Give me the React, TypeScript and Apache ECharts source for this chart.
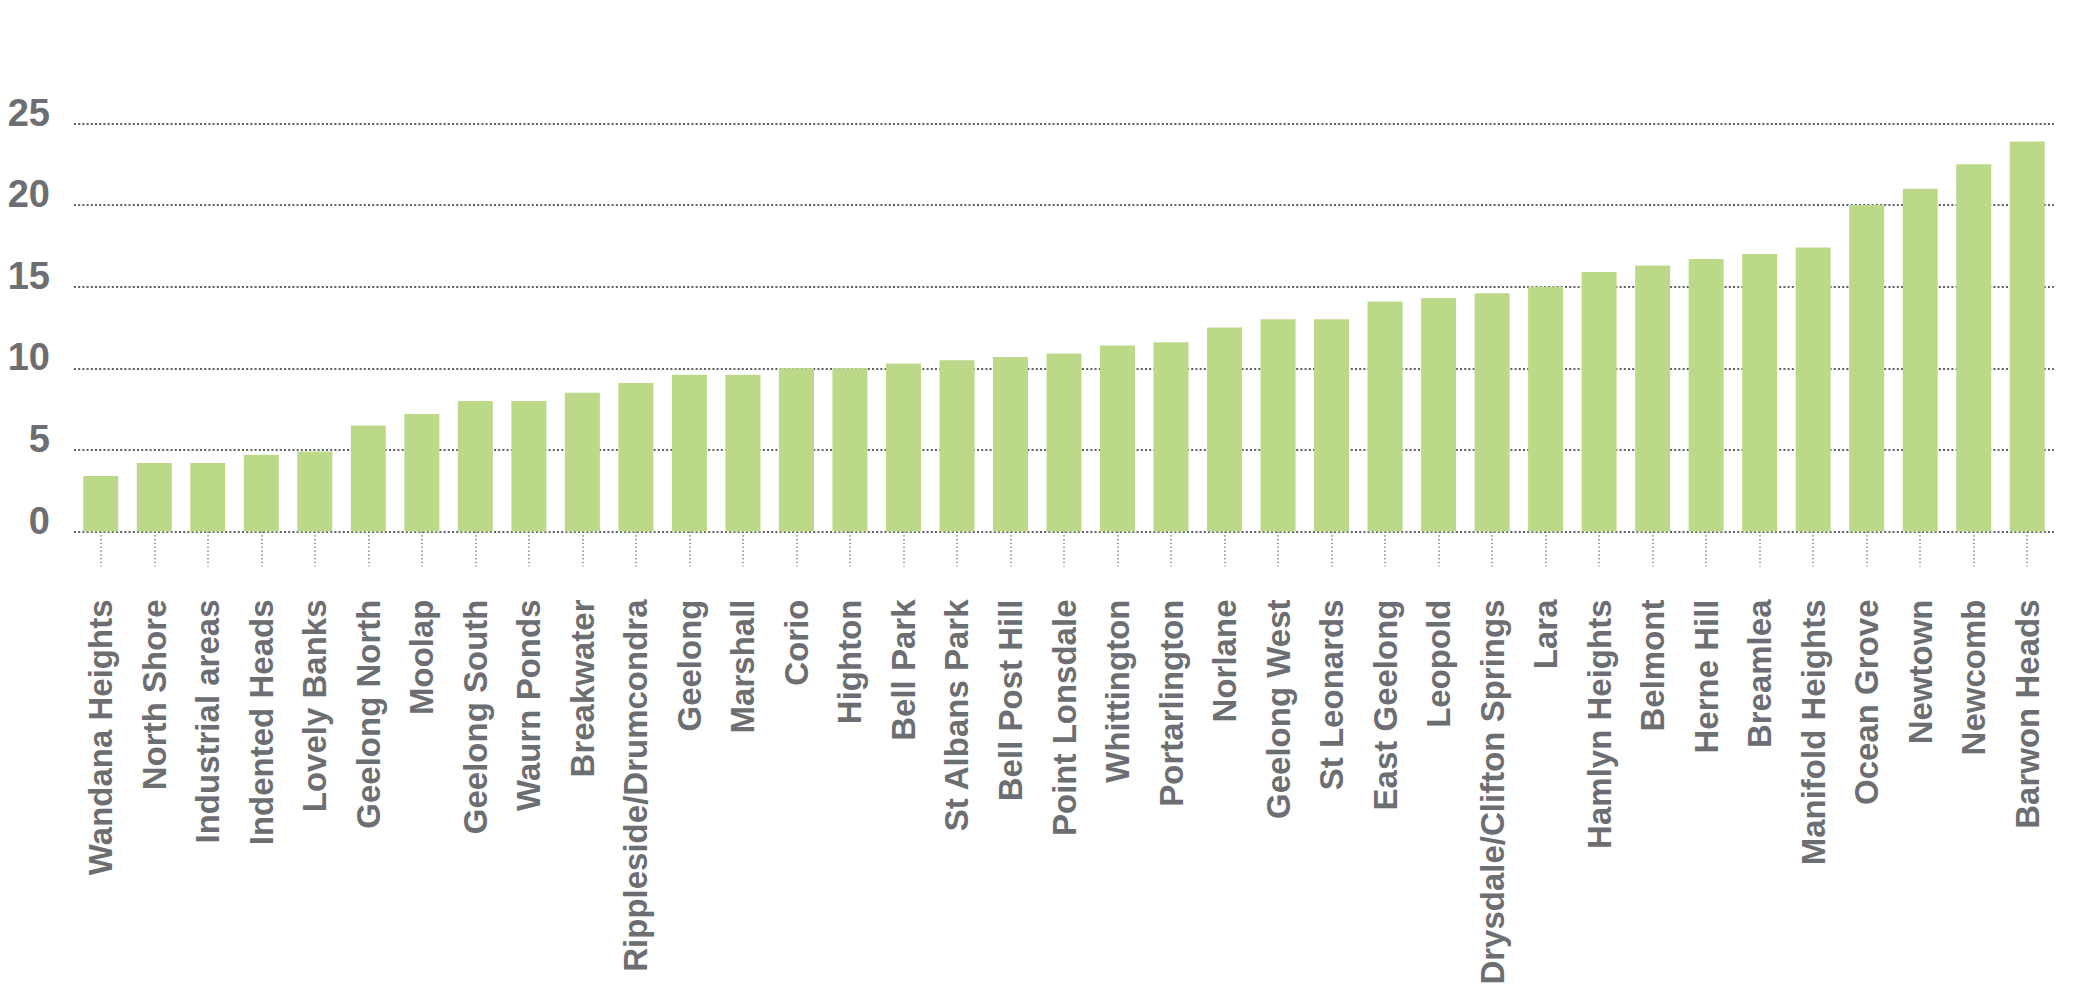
import React, { useEffect, useRef } from "react";
import * as echarts from "echarts";

const categories: string[] = [
  "Wandana Heights", "North Shore", "Industrial areas", "Indented Heads", "Lovely Banks",
  "Geelong North", "Moolap", "Geelong South", "Waurn Ponds", "Breakwater",
  "Rippleside/Drumcondra", "Geelong", "Marshall", "Corio", "Highton",
  "Bell Park", "St Albans Park", "Bell Post Hill", "Point Lonsdale", "Whittington",
  "Portarlington", "Norlane", "Geelong West", "St Leonards", "East Geelong",
  "Leopold", "Drysdale/Clifton Springs", "Lara", "Hamlyn Heights", "Belmont",
  "Herne Hill", "Breamlea", "Manifold Heights", "Ocean Grove", "Newtown",
  "Newcomb", "Barwon Heads",
];

const values: number[] = [
  3.4, 4.2, 4.2, 4.7, 4.9,
  6.5, 7.2, 8.0, 8.0, 8.5,
  9.1, 9.6, 9.6, 10.0, 10.0,
  10.3, 10.5, 10.7, 10.9, 11.4,
  11.6, 12.5, 13.0, 13.0, 14.1,
  14.3, 14.6, 15.0, 15.9, 16.3,
  16.7, 17.0, 17.4, 20.0, 21.0,
  22.5, 23.9,
];

const yMin = 0;
const yMax = 25;
const yStep = 5;

export default function App() {
  const ref = useRef<HTMLDivElement>(null);

  useEffect(() => {
    document.body.style.margin = "0";
    if (!ref.current) return;
    const chart = echarts.init(ref.current, undefined, { renderer: "svg" });
    const grey = "#6d6e71";
    chart.setOption({
      animation: false,
      backgroundColor: "#ffffff",
      grid: {
        left: 74,
        right: 21,
        top: 123.5,
        bottom: 456.5,
        containLabel: false,
        outerBoundsMode: "none",
      },
      xAxis: {
        type: "category",
        data: categories,
        offset: 21,
        axisLine: { show: false },
        axisTick: {
          show: true,
          alignWithLabel: true,
          interval: 0,
          length: 35,
          lineStyle: { color: grey, width: 1.5, type: [1.2, 2.6] },
        },
        axisLabel: {
          interval: 0,
          rotate: 90,
          margin: 47,
          color: grey,
          fontFamily: "Liberation Sans",
          fontWeight: "bold",
          fontSize: 33,
        },
        splitLine: { show: false },
      },
      yAxis: {
        type: "value",
        min: yMin,
        max: yMax,
        interval: yStep,
        axisLine: { show: false },
        axisTick: { show: false },
        axisLabel: {
          margin: 24,
          color: grey,
          fontFamily: "Liberation Sans",
          fontWeight: "bold",
          fontSize: 38,
          verticalAlign: "bottom",
          lineHeight: 22,
        },
        splitLine: {
          show: true,
          lineStyle: { color: "#5f6063", width: 2.2, type: [2, 2.2] },
        },
      },
      series: [
        {
          type: "bar",
          data: values,
          barWidth: 35,
          itemStyle: { color: "#bcd989" },
          z: 3,
        },
      ],
    });
    return () => chart.dispose();
  }, []);

  return <div ref={ref} style={{ width: 2075, height: 988 }} />;
}
